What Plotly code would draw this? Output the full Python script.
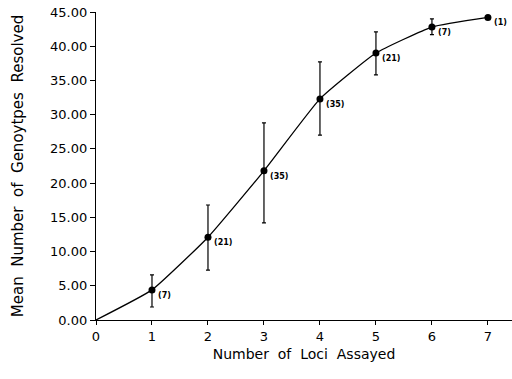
import plotly.graph_objects as go

loci = [0, 1, 2, 3, 4, 5, 6, 7]
mean_genotypes = [0.0, 4.4, 12.1, 21.8, 32.3, 39.0, 42.8, 44.2]
err_plus = [0.0, 2.2, 4.7, 7.0, 5.4, 3.1, 1.2, 0.0]
err_minus = [0.0, 2.5, 4.8, 7.6, 5.3, 3.2, 1.1, 0.0]
n_labels = ["", "(7)", "(21)", "(35)", "(35)", "(21)", "(7)", "(1)"]

font = "DejaVu Sans"

fig = go.Figure()
fig.add_trace(go.Scatter(
    x=loci, y=mean_genotypes, mode="lines",
    line=dict(color="black", width=1.3, shape="spline", smoothing=0.4),
    showlegend=False, hoverinfo="skip", cliponaxis=False))
fig.add_trace(go.Scatter(
    x=loci[1:], y=mean_genotypes[1:], mode="markers",
    marker=dict(color="black", size=7),
    error_y=dict(type="data", symmetric=False, array=err_plus[1:],
                 arrayminus=err_minus[1:], color="black", thickness=1.2, width=2),
    showlegend=False, cliponaxis=False))

for xv, yv, lab in zip(loci, mean_genotypes, n_labels):
    if lab:
        fig.add_annotation(x=xv, y=yv, text="<b>" + lab + "</b>", showarrow=False,
                           xanchor="left", yanchor="top", xshift=4, yshift=1,
                           font=dict(family=font, size=8, color="black"))

fig.update_layout(
    width=512, height=379,
    margin=dict(l=96, r=0, t=12, b=59),
    paper_bgcolor="white", plot_bgcolor="white",
    font=dict(family=font, color="black"),
    xaxis=dict(range=[0, 7.43], tickvals=[0, 1, 2, 3, 4, 5, 6, 7],
               ticks="outside", ticklen=4, tickwidth=1, tickcolor="black",
               showline=True, linecolor="black", linewidth=1.3,
               showgrid=False, zeroline=False, automargin=False,
               tickfont=dict(size=13, family=font),
               title=dict(text="Number  of  Loci  Assayed", standoff=6,
                          font=dict(size=14, family=font))),
    yaxis=dict(range=[0, 45], tickvals=[0, 5, 10, 15, 20, 25, 30, 35, 40, 45],
               tickformat=".2f",
               ticks="outside", ticklen=5, tickwidth=1, tickcolor="black",
               showline=True, linecolor="black", linewidth=1.3,
               showgrid=False, zeroline=False, automargin=False,
               tickfont=dict(size=13, family=font),
               title=dict(text="Mean  Number  of  Genoytpes  Resolved", standoff=22,
                          font=dict(size=15, family=font))),
)

fig.write_html("out.html", config={"displayModeBar": False},
               post_script="document.body.style.margin='0';document.body.style.overflow='hidden';")
